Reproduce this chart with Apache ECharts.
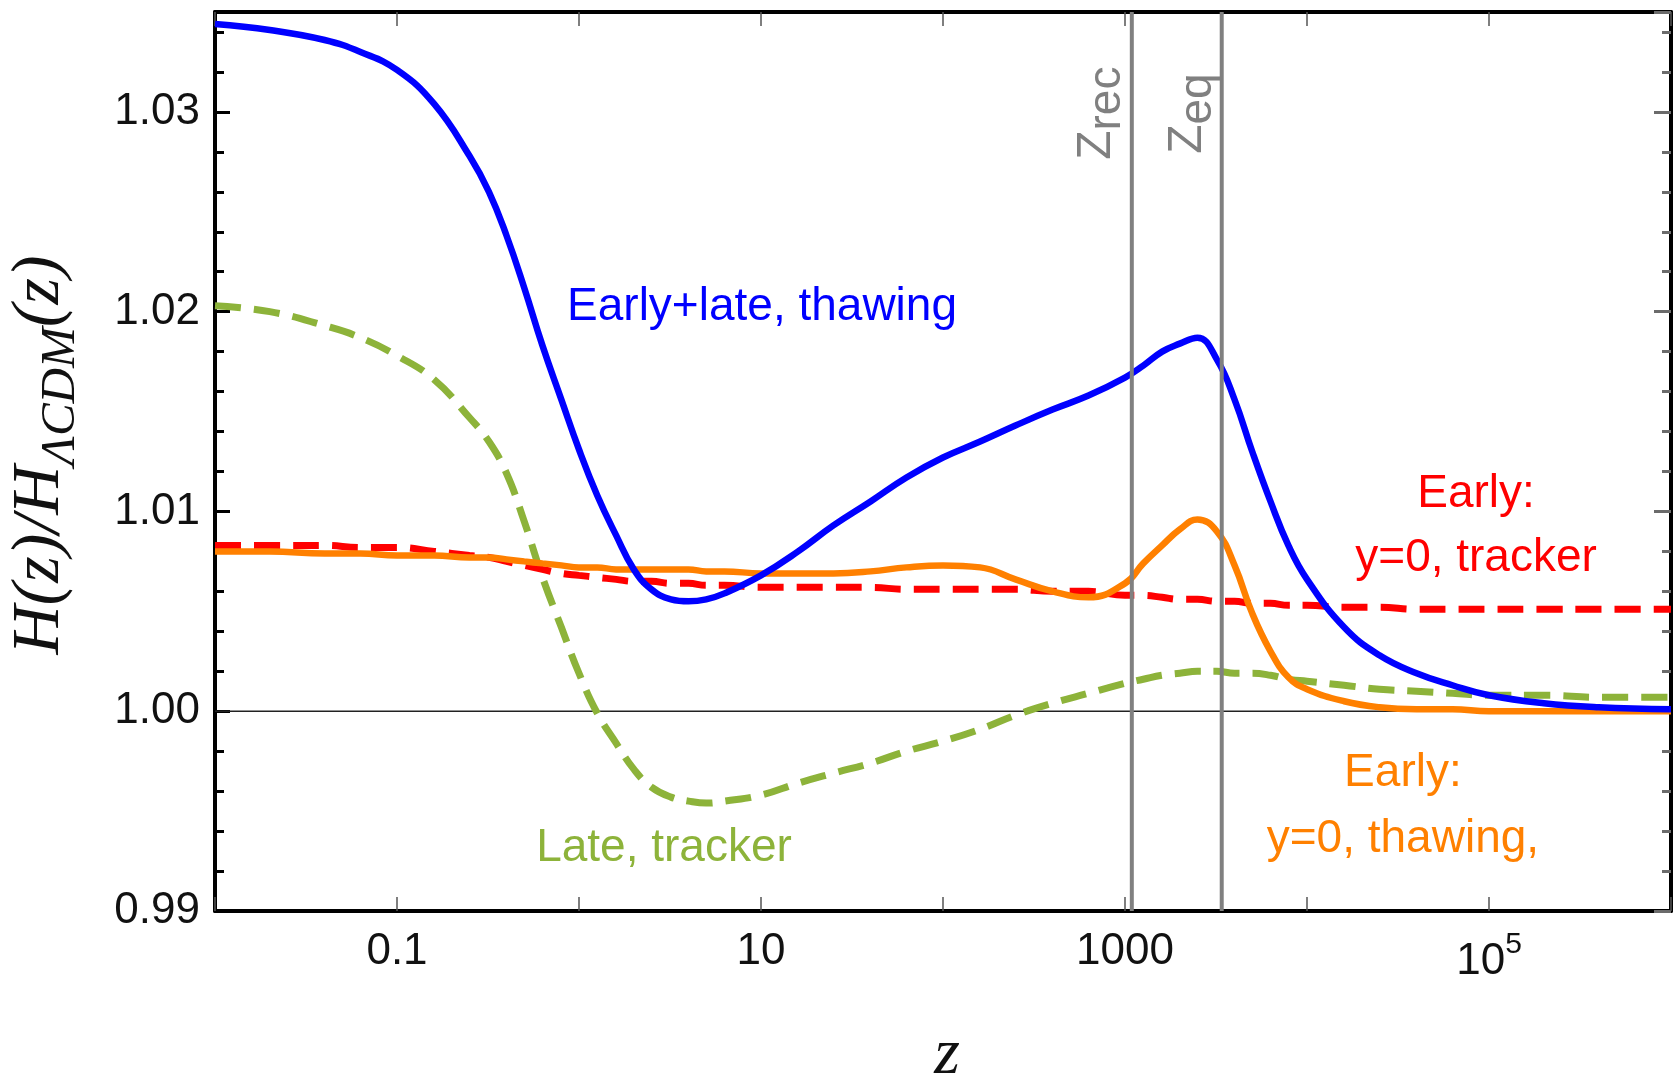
<!DOCTYPE html>
<html>
<head>
<meta charset="utf-8">
<script src="https://cdn.jsdelivr.net/npm/echarts@6/dist/echarts.min.js"></script>
<style>
  html, body { margin: 0; padding: 0; background: #ffffff; }
  #main { width: 1680px; height: 1081px; }
</style>
</head>
<body>
<div id="main"></div>
<script>
// Redshift sample points shared by every curve
const zGrid = [0.01, 0.02, 0.04, 0.063, 0.1, 0.16, 0.25, 0.32, 0.4, 0.5,
  0.63, 0.8, 1, 1.26, 1.6, 2, 2.5, 3.2, 4, 5,
  6.3, 10, 16, 25, 40, 63, 100, 160, 250, 400,
  630, 1000, 1260, 1600, 2000, 2500, 3200, 4000, 5000, 6300,
  7900, 10000, 16000, 25000, 40000, 63000, 100000, 200000, 400000, 1000000];

// H(z)/H_LCDM(z) for each model
const hEarlyLateThawing = [1.0344, 1.0341, 1.0336, 1.0330, 1.0321, 1.0304, 1.0278, 1.0260, 1.0238, 1.0212,
  1.0183, 1.0156, 1.0131, 1.0108, 1.0088, 1.0071, 1.0061, 1.0056, 1.0055, 1.0056,
  1.0059, 1.0068, 1.0080, 1.0093, 1.0105, 1.0117, 1.0127, 1.0135, 1.0143, 1.0151,
  1.0158, 1.0167, 1.0173, 1.0180, 1.0184, 1.0187, 1.0176, 1.0156, 1.0130, 1.0105,
  1.0083, 1.0066, 1.0042, 1.0028, 1.0019, 1.0013, 1.0008, 1.0004, 1.0002, 1.0001];

const hEarlyThawing = [1.0080, 1.0080, 1.0079, 1.0079, 1.0078, 1.0078, 1.0077, 1.0077, 1.0076, 1.0075,
  1.0074, 1.0073, 1.0072, 1.0072, 1.0071, 1.0071, 1.0071, 1.0071, 1.0071, 1.0070,
  1.0070, 1.0069, 1.0069, 1.0069, 1.0070, 1.0072, 1.0073, 1.0072, 1.0066, 1.0060,
  1.0057, 1.0064, 1.0074, 1.0083, 1.0091, 1.0096, 1.0090, 1.0073, 1.0049, 1.0030,
  1.0017, 1.0011, 1.0005, 1.0002, 1.0001, 1.0001, 1.0000, 1.0000, 1.0000, 1.0000];

const hEarlyTracker = [1.0083, 1.0083, 1.0083, 1.0082, 1.0082, 1.0080, 1.0078, 1.0077, 1.0075, 1.0073,
  1.0071, 1.0069, 1.0068, 1.0067, 1.0066, 1.0065, 1.0065, 1.0064, 1.0064, 1.0063,
  1.0063, 1.0062, 1.0062, 1.0062, 1.0062, 1.0061, 1.0061, 1.0061, 1.0061, 1.0060,
  1.0060, 1.0058, 1.0058, 1.0057, 1.0056, 1.0056, 1.0055, 1.0055, 1.0054, 1.0054,
  1.0053, 1.0053, 1.0052, 1.0052, 1.0051, 1.0051, 1.0051, 1.0051, 1.0051, 1.0051];

const hLateTracker = [1.0203, 1.0200, 1.0193, 1.0187, 1.0178, 1.0166, 1.0147, 1.0135, 1.0119, 1.0095,
  1.0067, 1.0042, 1.0019, 0.9999, 0.9984, 0.9971, 0.9962, 0.9957, 0.9955, 0.9954,
  0.9955, 0.9958, 0.9964, 0.9969, 0.9974, 0.9980, 0.9985, 0.9991, 0.9998, 1.0004,
  1.0009, 1.0014, 1.0016, 1.0018, 1.0019, 1.0020, 1.0020, 1.0019, 1.0019, 1.0018,
  1.0016, 1.0015, 1.0013, 1.0011, 1.0010, 1.0009, 1.0008, 1.0008, 1.0007, 1.0007];

// Recombination and matter-radiation equality redshifts
const zRec = 1090;
const zEq = 3400;

// Axis ranges and the labelled x ticks
const zMin = 0.01, zMax = 1000000;
const hMin = 0.99, hMax = 1.035;
const xLabelValues = [0.1, 10, 1000, 100000];
const xLabelTexts = ['0.1', '10', '1000', '{b|10}{s|5}'];

const SANS = 'Liberation Sans';
const SERIF = 'Liberation Serif';

function curve(name, values, color, width, dashed, z) {
  return {
    name, type: 'line', z,
    data: zGrid.map((zv, i) => [zv, values[i]]),
    showSymbol: false, symbol: 'none', smooth: 0.45, silent: true,
    lineStyle: { color, width, type: dashed ? [26, 13] : 'solid', cap: 'butt' }
  };
}

function guide(name, data, color, width, z) {
  return {
    name, type: 'line', z, data, showSymbol: false, symbol: 'none', silent: true,
    lineStyle: { color, width, type: 'solid' }
  };
}

function xLabel(v) {
  const i = xLabelValues.findIndex(t => Math.abs(Math.log10(v) - Math.log10(t)) < 1e-6);
  return i < 0 ? '' : xLabelTexts[i];
}

function yAxisDef(position, interval, tickLen, tickColor, withLine, withLabels) {
  return {
    type: 'value', position, min: hMin, max: hMax, interval,
    axisLine: { show: withLine, onZero: false, lineStyle: { color: '#000', width: 4 } },
    axisTick: { show: true, inside: true, length: tickLen, lineStyle: { color: tickColor, width: 3 } },
    axisLabel: withLabels ? {
      show: true, margin: 15, fontSize: 44, fontFamily: SANS, color: '#111',
      showMaxLabel: false, formatter: v => v.toFixed(2)
    } : { show: false },
    splitLine: { show: false }
  };
}

function xAxisDef(position, withLabels) {
  return {
    type: 'log', logBase: 10, position, min: zMin, max: zMax,
    axisLine: { show: true, onZero: false, lineStyle: { color: '#000', width: 4 } },
    axisTick: { show: true, inside: true, length: 14, lineStyle: { color: '#555', width: 1.5 } },
    minorTick: { show: false },
    axisLabel: withLabels ? {
      show: true, margin: 19, fontSize: 44, lineHeight: 44, fontFamily: SANS, color: '#111',
      formatter: xLabel,
      rich: {
        b: { fontSize: 44, lineHeight: 44, fontFamily: SANS, color: '#111', verticalAlign: 'bottom' },
        s: { fontSize: 30, lineHeight: 54, fontFamily: SANS, color: '#111', verticalAlign: 'top', padding: [0, 0, 24, 0] }
      }
    } : { show: false },
    splitLine: { show: false }
  };
}

const chart = echarts.init(document.getElementById('main'), null, { renderer: 'canvas' });

const option = {
  animation: false,
  backgroundColor: '#ffffff',
  grid: { left: 215, right: 9, top: 12, bottom: 170, containLabel: false },
  xAxis: [xAxisDef('bottom', true), xAxisDef('top', false)],
  yAxis: [
    yAxisDef('left', 0.01, 15, '#000', true, true),
    yAxisDef('left', 0.002, 9, '#000', false, false),
    yAxisDef('right', 0.01, 17, '#6b6b6b', true, false),
    yAxisDef('right', 0.002, 9, '#6b6b6b', false, false)
  ],
  series: [
    guide('LCDM', [[zMin, 1], [zMax, 1]], '#222', 1.5, 1),
    curve('Late, tracker', hLateTracker, '#8db33a', 7, true, 2),
    curve('Early: y=0, tracker', hEarlyTracker, '#ff0000', 7, true, 3),
    curve('Early: y=0, thawing', hEarlyThawing, '#ff8000', 6.5, false, 4),
    curve('Early+late, thawing', hEarlyLateThawing, '#0000ff', 6.5, false, 5),
    guide('z_rec', [[zRec, hMin], [zRec, hMax]], '#808080', 4, 6),
    guide('z_eq', [[zEq, hMin], [zEq, hMax]], '#808080', 4, 6)
  ]
};

chart.setOption(option);

const px = (zv, hv) => chart.convertToPixel({ seriesIndex: 0 }, [zv, hv]);

// Curve annotations, placed in data coordinates
const notes = [
  { text: 'Early+late, thawing', at: [10.13, 1.02023], color: '#0000ff' },
  { text: 'Early:', at: [84900, 1.01085], color: '#ff0000' },
  { text: 'y=0, tracker', at: [84900, 1.00767], color: '#ff0000' },
  { text: 'Early:', at: [33650, 0.99691], color: '#ff8000' },
  { text: 'y=0, thawing,', at: [33650, 0.99360], color: '#ff8000' },
  { text: 'Late, tracker', at: [2.93, 0.99315], color: '#8db33a' }
];

const graphics = notes.map(n => {
  const p = px(n.at[0], n.at[1]);
  return {
    type: 'text', x: p[0], y: p[1], silent: true, z: 20,
    style: { text: n.text, fill: n.color, font: '46px "' + SANS + '"', align: 'center', verticalAlign: 'middle' }
  };
});

// Rotated labels beside the z_rec and z_eq guide lines
const markerRich = {
  z: { fontSize: 48, lineHeight: 48, fontFamily: SANS, fill: '#808080', verticalAlign: 'top' },
  s: { fontSize: 46, lineHeight: 70, fontFamily: SANS, fill: '#808080' }
};
[[zRec, 'rec', 24, 1.0276], [zEq, 'eq', 23, 1.0279]].forEach(([zv, sub, off, hv]) => {
  const p = px(zv, hv);
  graphics.push({
    type: 'text', x: p[0] - off, y: p[1], rotation: Math.PI / 2, silent: true, z: 20,
    style: { text: '{z|Z}{s|' + sub + '}', rich: markerRich, align: 'left', verticalAlign: 'middle' }
  });
});

// Axis titles
graphics.push({
  type: 'text', x: 61, y: 455, rotation: Math.PI / 2, silent: true, z: 20,
  style: {
    text: '{m|H(z)/H}{s|ΛCDM}{m|(z)}', align: 'center', verticalAlign: 'middle',
    rich: {
      m: { fontSize: 68, lineHeight: 68, fontFamily: SERIF, fontStyle: 'italic', fill: '#111', verticalAlign: 'top' },
      s: { fontSize: 49, lineHeight: 110, fontFamily: SERIF, fontStyle: 'italic', fill: '#111' }
    }
  }
});
graphics.push({
  type: 'text', x: 947, y: 1056, silent: true, z: 20,
  style: { text: 'z', fill: '#111', font: 'italic 66px "' + SERIF + '"', align: 'center', verticalAlign: 'middle' }
});

chart.setOption({ graphic: graphics });
</script>
</body>
</html>
